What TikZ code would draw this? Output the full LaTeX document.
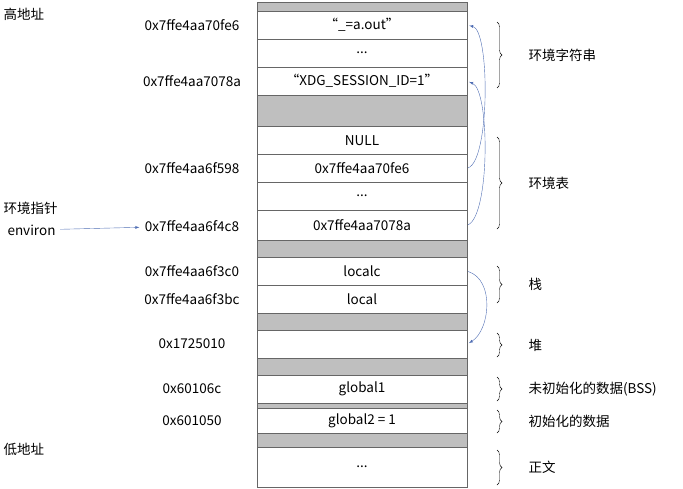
\documentclass[tikz,border=0pt]{standalone}
\usepackage{fontspec}
\setmainfont{Noto Sans CJK SC}
\usetikzlibrary{decorations.pathreplacing}
\tikzset{font=\fontsize{13.5}{15}\selectfont}

\begin{document}
\begin{tikzpicture}
  [x=1pt, y=-1pt,
  cell/.style={rectangle, draw=black!60, fill=white, minimum width=210pt, inner sep=0pt, anchor=north},
  gap/.style={cell, fill=black!25},
  addr/.style={anchor=center},
  side/.style={anchor=west},
  brace/.style={draw, decorate, decoration={brace, amplitude=5pt}},
  line/.style={draw={rgb,255:red,80;green,110;blue,180}, -latex, shorten >=2pt, shorten <=1pt}]
  \useasboundingbox (0,0) rectangle (683,488);
  % cells from top to bottom
  \node [gap, minimum height=9pt] (g1) at (362,2) {};
  \node [cell, minimum height=28pt] (aout) at (362,11) {``\_=a.out''};
  \node [cell, minimum height=28pt] (dots1) at (362,39) {...};
  \node [cell, minimum height=28pt] (xdg) at (362,67) {``XDG\_SESSION\_ID=1''};
  \node [gap, minimum height=31pt] (g2) at (362,95) {};
  \node [cell, minimum height=28pt] (null) at (362,126) {NULL};
  \node [cell, minimum height=28pt] (pfe6) at (362,154) {0x7ffe4aa70fe6};
  \node [cell, minimum height=28pt] (dots2) at (362,182) {...};
  \node [cell, minimum height=30pt] (p78a) at (362,210) {0x7ffe4aa7078a};
  \node [gap, minimum height=17pt] (g3) at (362,240) {};
  \node [cell, minimum height=28pt] (localc) at (362,257) {localc};
  \node [cell, minimum height=28pt] (local) at (362,285) {local};
  \node [gap, minimum height=17pt] (g4) at (362,313) {};
  \node [cell, minimum height=28pt] (heap) at (362,330) {};
  \node [gap, minimum height=17pt] (g5) at (362,358) {};
  \node [cell, minimum height=28pt] (glob1) at (362,375) {global1};
  \node [gap, minimum height=5pt] (g6) at (362,403) {};
  \node [cell, minimum height=25pt] (glob2) at (362,408) {global2 = 1};
  \node [gap, minimum height=14pt] (g7) at (362,433) {};
  \node [cell, minimum height=40pt] (dots3) at (362,447) {...};

  % addresses
  \node [addr] (a1) at (192,25) {0x7ffe4aa70fe6};
  \node [addr] (a2) at (192,81) {0x7ffe4aa7078a};
  \node [addr] (a3) at (192,168) {0x7ffe4aa6f598};
  \node [addr] (a4) at (192,226) {0x7ffe4aa6f4c8};
  \node [addr] (a5) at (192,271) {0x7ffe4aa6f3c0};
  \node [addr] (a6) at (192,299) {0x7ffe4aa6f3bc};
  \node [addr] (a7) at (192,344) {0x1725010};
  \node [addr] (a8) at (192,389) {0x60106c};
  \node [addr] (a9) at (192,421) {0x601050};
  \node [side] (high) at (0,14) {高地址};
  \node [side] (low) at (0,449) {低地址};
  \node [side] (envp) at (0,208) {环境指针};
  \node [side] (environ) at (4,230) {environ};
  \draw [line] (environ) -- (a4);

  % braces and labels
  \draw [brace] (497,22) -- (497,88) coordinate[midway] (b1);
  \draw [brace] (497,137) -- (497,229) coordinate[midway] (b2);
  \draw [brace] (497,266) -- (497,303) coordinate[midway] (b3);
  \draw [brace] (497,333) -- (497,357) coordinate[midway] (b4);
  \draw [brace] (497,377) -- (497,401) coordinate[midway] (b5);
  \draw [brace] (497,410) -- (497,433) coordinate[midway] (b6);
  \draw [brace] (497,450) -- (497,485) coordinate[midway] (b7);
  \node [side] at ([xshift=28pt]b1) {环境字符串};
  \node [side] at ([xshift=28pt]b2) {环境表};
  \node [side] at ([xshift=28pt]b3) {栈};
  \node [side] at ([xshift=28pt]b4) {堆};
  \node [side] at ([xshift=28pt]b5) {未初始化的数据(BSS)};
  \node [side] at ([xshift=28pt]b6) {初始化的数据};
  \node [side] at ([xshift=28pt]b7) {正文};

  % pointers
  \path [line] (pfe6.east) .. controls (490,160) and (490,30) .. (aout.east);
  \path [line] (p78a.east) .. controls (490,215) and (490,90) .. (xdg.east);
  \path [line] (localc.east) .. controls (495,280) and (490,330) .. (heap.east);
\end{tikzpicture}
\end{document}
